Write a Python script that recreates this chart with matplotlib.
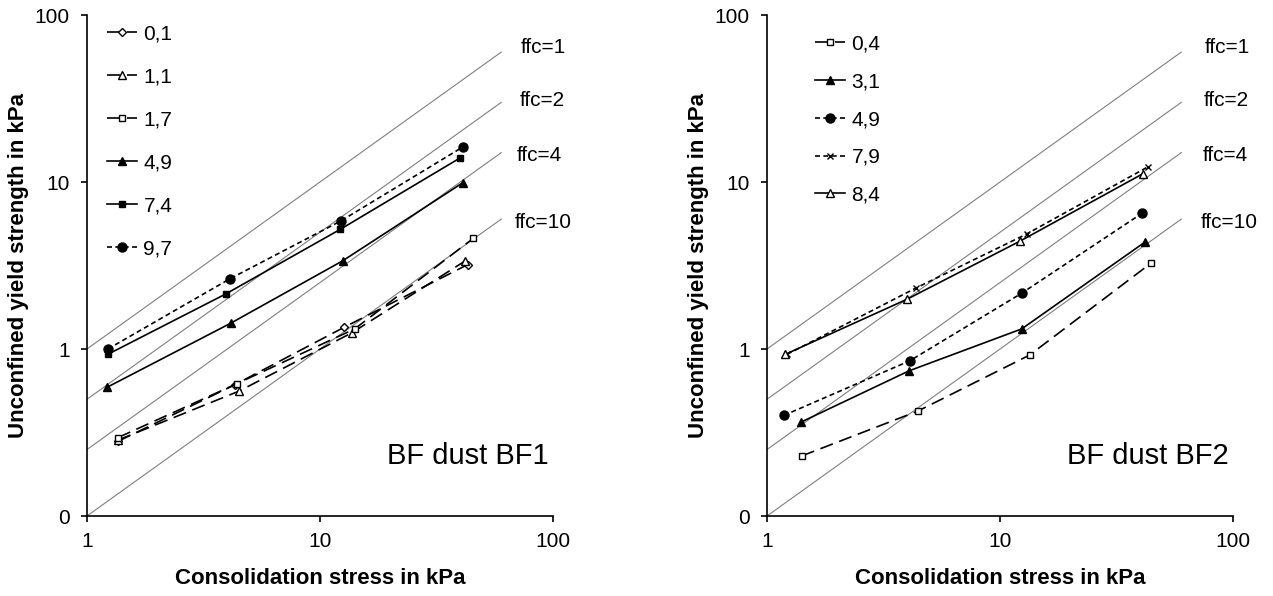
import numpy as np
import matplotlib
matplotlib.use("Agg")
import matplotlib.pyplot as plt
from matplotlib.ticker import FixedLocator, FixedFormatter, NullLocator

plt.rcParams['font.family'] = ['Liberation Sans', 'DejaVu Sans']

# BF dust BF1 (left)
bf1_labels = ["0,1", "1,1", "1,7", "4,9", "7,4", "9,7"]
bf1_x = [
    [1.36, 4.3, 12.7, 43.0],
    [1.36, 4.5, 13.7, 42.0],
    [1.36, 4.4, 14.1, 45.5],
    [1.22, 4.15, 12.5, 41.0],
    [1.23, 3.95, 12.2, 39.8],
    [1.23, 4.1, 12.3, 41.0],
]
bf1_y = [
    [0.28, 0.61, 1.35, 3.2],
    [0.285, 0.56, 1.25, 3.37],
    [0.295, 0.62, 1.32, 4.6],
    [0.59, 1.43, 3.37, 9.9],
    [0.93, 2.14, 5.2, 13.9],
    [1.0, 2.63, 5.85, 16.2],
]

# BF dust BF2 (right)
bf2_labels = ["0,4", "3,1", "4,9", "7,9", "8,4"]
bf2_x = [
    [1.41, 4.44, 13.4, 44.5],
    [1.40, 4.07, 12.4, 41.9],
    [1.18, 4.1, 12.4, 40.7],
    [1.22, 4.36, 13.0, 43.0],
    [1.20, 4.0, 12.2, 41.0],
]
bf2_y = [
    [0.229, 0.425, 0.92, 3.27],
    [0.365, 0.74, 1.32, 4.37],
    [0.40, 0.85, 2.16, 6.5],
    [0.93, 2.32, 4.88, 12.3],
    [0.93, 1.99, 4.43, 11.2],
]

ffc_values = [1, 2, 4, 10]
ffc_x = [1, 60]

long_dash = (0, (8, 4))
short_dash = (0, (3, 2))

bf1_styles = [
    dict(marker="D", mfc="white", ms=4.5, ls=long_dash),
    dict(marker="^", mfc="white", ms=5.5, ls=long_dash),
    dict(marker="s", mfc="white", ms=5, ls=long_dash),
    dict(marker="^", mfc="black", ms=6, ls="-"),
    dict(marker="s", mfc="black", ms=5, ls="-"),
    dict(marker="o", mfc="black", ms=6.5, ls=short_dash),
]
bf2_styles = [
    dict(marker="s", mfc="white", ms=5, ls=long_dash),
    dict(marker="^", mfc="black", ms=6, ls="-"),
    dict(marker="o", mfc="black", ms=6.5, ls=short_dash),
    dict(marker="x", mfc="black", ms=5, ls=short_dash),
    dict(marker="^", mfc="white", ms=5.5, ls="-"),
]

fig = plt.figure(figsize=(12.73, 5.96), dpi=100)
ax1 = fig.add_axes([0.0683, 0.1342, 0.3661, 0.8406])
ax2 = fig.add_axes([0.6025, 0.1342, 0.3661, 0.8406])


def draw(ax, xs, ys, labels, styles, name, leg_anchor, spacing, ffc_pos):
    for f, (tx, ty) in zip(ffc_values, ffc_pos):
        ax.plot(ffc_x, [v / f for v in ffc_x], color="#7f7f7f", lw=0.8, zorder=1)
        ax.text(tx, ty, "ffc=%d" % f, fontsize=15, va="center", ha="left",
                transform=ax.transAxes, clip_on=False)
    for x, y, lab, st in zip(xs, ys, labels, styles):
        ax.plot(x, y, color="black", lw=1.2, mec="black", mew=1.0, label=lab,
                zorder=3, **st)
    ax.set_xscale("log")
    ax.set_yscale("log")
    ax.set_xlim(1, 100)
    ax.set_ylim(0.1, 100)
    ax.xaxis.set_major_locator(FixedLocator([1, 10, 100]))
    ax.xaxis.set_major_formatter(FixedFormatter(["1", "10", "100"]))
    ax.yaxis.set_major_locator(FixedLocator([0.1, 1, 10, 100]))
    ax.yaxis.set_major_formatter(FixedFormatter(["0", "1", "10", "100"]))
    ax.xaxis.set_minor_locator(NullLocator())
    ax.yaxis.set_minor_locator(NullLocator())
    ax.spines["top"].set_visible(False)
    ax.spines["right"].set_visible(False)
    ax.spines["left"].set_linewidth(1.2)
    ax.spines["bottom"].set_linewidth(1.2)
    ax.tick_params(direction="out", length=4.5, width=1.2, labelsize=15)
    ax.tick_params(axis="x", pad=7)
    ax.tick_params(axis="y", pad=8)
    ax.set_xlabel("Consolidation stress in kPa", fontsize=16, fontweight="bold",
                  labelpad=12)
    ax.set_ylabel("Unconfined yield strength in kPa", fontsize=16,
                  fontweight="bold", labelpad=4)
    ax.text(0.99, 0.12, name, fontsize=21, ha="right", va="center",
            transform=ax.transAxes)
    ax.legend(loc="upper left", bbox_to_anchor=leg_anchor, frameon=False,
              fontsize=15, labelspacing=spacing, handlelength=1.45,
              handletextpad=0.3, borderpad=0, borderaxespad=0)


draw(ax1, bf1_x, bf1_y, bf1_labels, bf1_styles, "BF dust BF1", (0.043, 0.981), 1.15,
     [(0.93, 0.935), (0.928, 0.83), (0.923, 0.72), (0.917, 0.585)])
draw(ax2, bf2_x, bf2_y, bf2_labels, bf2_styles, "BF dust BF2", (0.103, 0.961), 0.9,
     [(0.94, 0.935), (0.938, 0.83), (0.935, 0.72), (0.93, 0.585)])

fig.savefig("out.png", dpi=100)
